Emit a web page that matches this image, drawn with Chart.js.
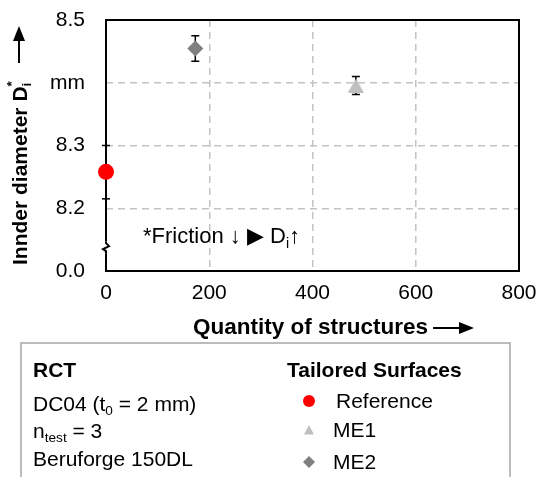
<!DOCTYPE html>
<html>
<head>
<meta charset="utf-8">
<script src="https://cdn.jsdelivr.net/npm/chart.js@4/dist/chart.umd.min.js"></script>
<style>
  body { margin: 0; background: #fff; }
</style>
</head>
<body>
<canvas id="chart" width="539" height="477"></canvas>
<script>
// data
const seriesNames = ['Reference', 'ME1', 'ME2'];
const xValues = [0, 484, 173];
const yValues = [8.258, 8.3955, 8.4547];
const yErrors = [0, 0.0144, 0.0203];
const seriesColors = ['#ff0000', '#bfbfbf', '#7f7f7f'];

const xTickValues = [0, 200, 400, 600, 800];
const yTickValues = [8.1, 8.2, 8.3, 8.4, 8.5];
const yTickLabels = ['0.0', '8.2', '8.3', 'mm', '8.5'];

const FONT = "'Liberation Sans', Arial, sans-serif";

// triangle marker as a small canvas so it sits centred on its point
function triCanvas(w, h, color) {
  const c = document.createElement('canvas');
  c.width = w; c.height = h;
  const g = c.getContext('2d');
  g.fillStyle = color;
  g.beginPath();
  g.moveTo(w / 2, 0);
  g.lineTo(w, h);
  g.lineTo(0, h);
  g.closePath();
  g.fill();
  return c;
}

// text with sub/superscript pieces
function drawRich(ctx, parts, x, y, size, bold) {
  let cx = x;
  parts.forEach(p => {
    const s = p.sub || p.sup ? size * 0.65 : size;
    ctx.font = (bold ? 'bold ' : '') + s + 'px ' + FONT;
    const dy = p.sub ? size * 0.3 : (p.sup ? -size * 0.3 : 0);
    ctx.fillText(p.t, cx, y + dy);
    cx += ctx.measureText(p.t).width;
  });
  return cx;
}

function drawMarker(ctx, style, x, y, r, color) {
  ctx.fillStyle = color;
  ctx.beginPath();
  if (style === 'circle') {
    ctx.arc(x, y, r, 0, Math.PI * 2);
  } else if (style === 'triangle') {
    ctx.moveTo(x, y - r);
    ctx.lineTo(x + r, y + r * 0.9);
    ctx.lineTo(x - r, y + r * 0.9);
    ctx.closePath();
  } else {
    ctx.moveTo(x, y - r);
    ctx.lineTo(x + r, y);
    ctx.lineTo(x, y + r);
    ctx.lineTo(x - r, y);
    ctx.closePath();
  }
  ctx.fill();
}

const decor = {
  id: 'decor',
  beforeDatasetsDraw(chart) {
    const { ctx, chartArea: a, scales: { x, y } } = chart;
    ctx.save();
    // frame
    ctx.strokeStyle = '#000';
    ctx.lineWidth = 2;
    ctx.strokeRect(a.left, a.top, a.right - a.left, a.bottom - a.top);
    // axis break on the y axis
    const by = y.getPixelForValue(8.138);
    ctx.fillStyle = '#fff';
    ctx.fillRect(a.left - 2, by - 6, 4, 12);
    ctx.beginPath();
    ctx.moveTo(a.left, by - 6);
    ctx.lineTo(a.left, by - 4);
    ctx.lineTo(a.left + 3, by - 1);
    ctx.lineTo(a.left - 3, by + 2);
    ctx.lineTo(a.left, by + 4);
    ctx.lineTo(a.left, by + 6);
    ctx.lineWidth = 2;
    ctx.stroke();
    // two short marks across the y axis
    ctx.lineWidth = 1.5;
    [8.3, 8.215].forEach(v => {
      const py = y.getPixelForValue(v);
      ctx.beginPath();
      ctx.moveTo(a.left - 4, py);
      ctx.lineTo(a.left + 4, py);
      ctx.stroke();
    });
    // error bars
    ctx.strokeStyle = '#000';
    ctx.lineWidth = 1.5;
    yErrors.forEach((err, i) => {
      if (!err) return;
      const px = x.getPixelForValue(xValues[i]);
      const t = y.getPixelForValue(yValues[i] + err);
      const b = y.getPixelForValue(yValues[i] - err);
      ctx.beginPath();
      ctx.moveTo(px, t); ctx.lineTo(px, b);
      ctx.moveTo(px - 4, t); ctx.lineTo(px + 4, t);
      ctx.moveTo(px - 4, b); ctx.lineTo(px + 4, b);
      ctx.stroke();
    });
    ctx.restore();
  },
  afterDraw(chart) {
    const { ctx, chartArea: a } = chart;
    ctx.save();
    ctx.fillStyle = '#000';
    ctx.strokeStyle = '#000';
    ctx.textBaseline = 'middle';
    ctx.textAlign = 'left';

    // note inside plot
    drawRich(ctx, [{ t: '*Friction ↓ ▶ D' }, { t: 'i', sub: true }, { t: '↑' }], a.left + 37, a.bottom - 34, 22, false);

    // x title
    let ex = drawRich(ctx, [{ t: 'Quantity of structures' }], 193, 328, 22.5, true);
    ctx.lineWidth = 2;
    ctx.beginPath();
    ctx.moveTo(ex + 5, 328); ctx.lineTo(ex + 36, 328);
    ctx.stroke();
    ctx.beginPath();
    ctx.moveTo(ex + 46, 328); ctx.lineTo(ex + 31, 322); ctx.lineTo(ex + 31, 334); ctx.closePath();
    ctx.fill();

    // y title (rotated)
    ctx.save();
    ctx.translate(21, 265);
    ctx.rotate(-Math.PI / 2);
    ex = drawRich(ctx, [{ t: 'Innder diameter D' }], 0, 0, 21, true);
    drawRich(ctx, [{ t: 'i', sub: true }], ex, 0, 21, true);
    drawRich(ctx, [{ t: '*', sup: true }], ex, -2, 21, true);
    ctx.restore();
    ctx.lineWidth = 2;
    ctx.beginPath();
    ctx.moveTo(19, 63); ctx.lineTo(19, 38);
    ctx.stroke();
    ctx.beginPath();
    ctx.moveTo(19, 26); ctx.lineTo(13, 41); ctx.lineTo(25, 41); ctx.closePath();
    ctx.fill();

    // legend box
    ctx.strokeStyle = '#a6a6a6';
    ctx.lineWidth = 1.5;
    ctx.strokeRect(21, 343, 489, 150);
    ctx.fillStyle = '#000';
    drawRich(ctx, [{ t: 'RCT' }], 33, 371, 21, true);
    drawRich(ctx, [{ t: 'DC04 (t' }, { t: '0', sub: true }, { t: ' = 2 mm)' }], 33, 405, 21, false);
    drawRich(ctx, [{ t: 'n' }, { t: 'test', sub: true }, { t: ' = 3' }], 33, 432, 21, false);
    drawRich(ctx, [{ t: 'Beruforge 150DL' }], 33, 460, 21, false);

    drawRich(ctx, [{ t: 'Tailored Surfaces' }], 287, 371, 21, true);
    const rows = [401, 430, 462];
    const styles = ['circle', 'triangle', 'diamond'];
    const sizes = [6, 5, 6];
    const textX = [336, 333, 333];
    seriesNames.forEach((name, i) => {
      drawMarker(ctx, styles[i], 309, rows[i], sizes[i], seriesColors[i]);
      ctx.fillStyle = '#000';
      drawRich(ctx, [{ t: name }], textX[i], rows[i] + 1, 21, false);
    });
    ctx.restore();
  }
};

const gridColor = v => (v === xTickValues[0] || v === xTickValues[xTickValues.length - 1]) ? 'rgba(0,0,0,0)' : '#c4c4c4';

new Chart(document.getElementById('chart'), {
  type: 'scatter',
  data: {
    datasets: seriesNames.map((name, i) => ({
      label: name,
      data: [{ x: xValues[i], y: yValues[i] }],
      backgroundColor: seriesColors[i],
      borderWidth: 0,
      pointStyle: i === 0 ? 'circle' : (i === 1 ? triCanvas(16, 14, seriesColors[i]) : 'rectRot'),
      pointRadius: 8,
      clip: false
    }))
  },
  options: {
    responsive: false,
    animation: false,
    layout: { padding: { top: 20, right: 20, left: 0, bottom: 0 } },
    plugins: { legend: { display: false }, tooltip: { enabled: false } },
    scales: {
      x: {
        type: 'linear',
        min: 0,
        max: 800,
        afterBuildTicks: s => { s.ticks = xTickValues.map(v => ({ value: v })); },
        afterFit: s => { s.height = 206; s.paddingLeft = 0; s.paddingRight = 0; },
        ticks: { color: '#000', font: { family: FONT, size: 21 }, padding: 10, maxRotation: 0 },
        grid: { color: c => gridColor(c.tick.value), lineWidth: 1.5, drawTicks: false },
        border: { display: false, dash: [7, 5] }
      },
      y: {
        min: 8.1,
        max: 8.5,
        afterBuildTicks: s => { s.ticks = yTickValues.map(v => ({ value: v })); },
        afterFit: s => { s.width = 106; s.paddingTop = 0; s.paddingBottom = 0; },
        ticks: {
          color: '#000',
          font: { family: FONT, size: 21 },
          padding: 21,
          callback: (v, i) => yTickLabels[i]
        },
        grid: {
          color: c => (c.index === 0 || c.index === yTickValues.length - 1) ? 'rgba(0,0,0,0)' : '#c4c4c4',
          lineWidth: 1.5,
          drawTicks: false
        },
        border: { display: false, dash: [7, 5] }
      }
    }
  },
  plugins: [decor]
});
</script>
</body>
</html>
